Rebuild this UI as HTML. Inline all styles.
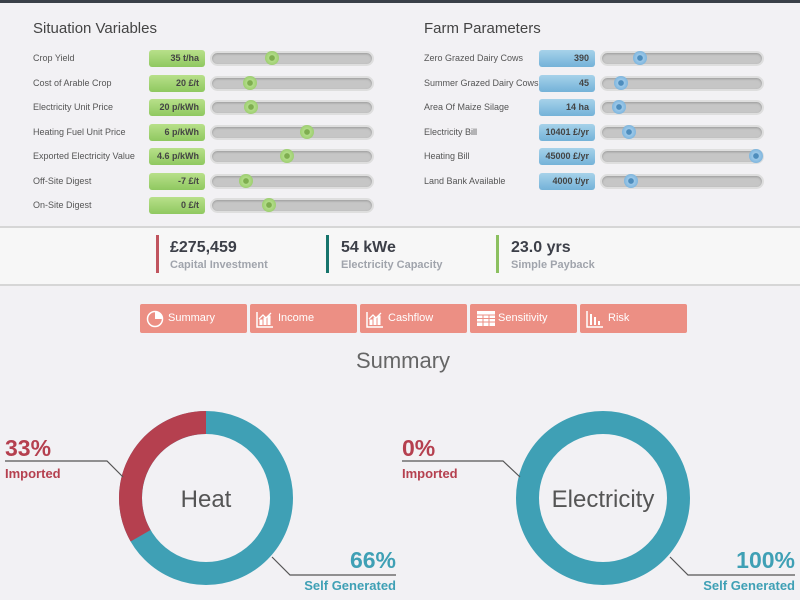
<!DOCTYPE html>
<html><head><meta charset="utf-8"><style>
*{margin:0;padding:0;box-sizing:border-box}
body{width:800px;height:600px;overflow:hidden;background:#f2f1f4;font-family:"Liberation Sans",sans-serif;position:relative}
.a{position:absolute}
.topbar{left:0;top:0;width:800px;height:3px;background:#3a4048}
h2{position:absolute;font-weight:normal;font-size:15px;color:#444}
.lbl{position:absolute;font-size:9px;color:#555;white-space:nowrap}
.box{position:absolute;width:56px;height:17px;border-radius:3px;font-size:9px;font-weight:bold;color:#444;text-align:right;padding-right:6px;line-height:17px}
.g{background:linear-gradient(#b8e08a,#8fc860)}
.b{background:linear-gradient(#a6d2ea,#74b2d8)}
.trk{position:absolute;width:164px;height:15px;border-radius:8px;background:#c6c6c6;border:2px solid #dedede;box-shadow:inset 0 1px 2px #999}
.trk i{position:absolute;top:-2px;width:14px;height:14px;border-radius:50%}
.trk.gg i{background:radial-gradient(circle,#7fae50 25%,#b2dc88 32%,#8ec460 100%)}
.trk.bb i{background:radial-gradient(circle,#4e8dbd 25%,#9cc8e8 32%,#6aa8d6 100%)}
.band{left:0;top:226px;width:800px;height:60px;background:#f7f7f7;border-top:2px solid #d6d6d6;border-bottom:2px solid #d6d6d6}
.sb{position:absolute;top:235px;width:3px;height:38px}
.sv{position:absolute;top:239px;font-size:16px;font-weight:bold;color:#3c3f48}
.sl{position:absolute;top:259px;font-size:11px;font-weight:bold;color:#a0a4ac}
.btn{position:absolute;top:304px;width:107px;height:29px;background:#ec8f84;border-radius:2px;color:#fff;font-size:11px;line-height:29px;padding-left:28px}
.btn svg{position:absolute;left:6px;top:6px}
</style></head><body>
<div class="a topbar"></div>
<h2 style="left:33px;top:20px">Situation Variables</h2>
<h2 style="left:424px;top:20px">Farm Parameters</h2>

<div class="lbl" style="left:33px;top:53px">Crop Yield</div>
<div class="lbl" style="left:33px;top:78px">Cost of Arable Crop</div>
<div class="lbl" style="left:33px;top:102px">Electricity Unit Price</div>
<div class="lbl" style="left:33px;top:127px">Heating Fuel Unit Price</div>
<div class="lbl" style="left:33px;top:151px">Exported Electricity Value</div>
<div class="lbl" style="left:33px;top:176px">Off-Site Digest</div>
<div class="lbl" style="left:33px;top:200px">On-Site Digest</div>

<div class="box g" style="left:149px;top:50px">35 t/ha</div>
<div class="box g" style="left:149px;top:75px">20 £/t</div>
<div class="box g" style="left:149px;top:99px">20 p/kWh</div>
<div class="box g" style="left:149px;top:124px">6 p/kWh</div>
<div class="box g" style="left:149px;top:148px">4.6 p/kWh</div>
<div class="box g" style="left:149px;top:173px">-7 £/t</div>
<div class="box g" style="left:149px;top:197px">0 £/t</div>

<div class="trk gg" style="left:210px;top:51px"><i style="left:53px"></i></div>
<div class="trk gg" style="left:210px;top:76px"><i style="left:31px"></i></div>
<div class="trk gg" style="left:210px;top:100px"><i style="left:32px"></i></div>
<div class="trk gg" style="left:210px;top:125px"><i style="left:88px"></i></div>
<div class="trk gg" style="left:210px;top:149px"><i style="left:68px"></i></div>
<div class="trk gg" style="left:210px;top:174px"><i style="left:27px"></i></div>
<div class="trk gg" style="left:210px;top:198px"><i style="left:50px"></i></div>

<div class="lbl" style="left:424px;top:53px">Zero Grazed Dairy Cows</div>
<div class="lbl" style="left:424px;top:78px">Summer Grazed Dairy Cows</div>
<div class="lbl" style="left:424px;top:102px">Area Of Maize Silage</div>
<div class="lbl" style="left:424px;top:127px">Electricity Bill</div>
<div class="lbl" style="left:424px;top:151px">Heating Bill</div>
<div class="lbl" style="left:424px;top:176px">Land Bank Available</div>

<div class="box b" style="left:539px;top:50px">390</div>
<div class="box b" style="left:539px;top:75px">45</div>
<div class="box b" style="left:539px;top:99px">14 ha</div>
<div class="box b" style="left:539px;top:124px">10401 £/yr</div>
<div class="box b" style="left:539px;top:148px">45000 £/yr</div>
<div class="box b" style="left:539px;top:173px">4000 t/yr</div>

<div class="trk bb" style="left:600px;top:51px"><i style="left:31px"></i></div>
<div class="trk bb" style="left:600px;top:76px"><i style="left:12px"></i></div>
<div class="trk bb" style="left:600px;top:100px"><i style="left:10px"></i></div>
<div class="trk bb" style="left:600px;top:125px"><i style="left:20px"></i></div>
<div class="trk bb" style="left:600px;top:149px"><i style="left:147px"></i></div>
<div class="trk bb" style="left:600px;top:174px"><i style="left:22px"></i></div>

<div class="a band"></div>
<div class="sb" style="left:156px;background:#c0545e"></div>
<div class="sb" style="left:326px;background:#16746c"></div>
<div class="sb" style="left:496px;background:#8cc060"></div>
<div class="sv" style="left:170px">£275,459</div><div class="sl" style="left:170px">Capital Investment</div>
<div class="sv" style="left:341px">54 kWe</div><div class="sl" style="left:341px">Electricity Capacity</div>
<div class="sv" style="left:511px">23.0 yrs</div><div class="sl" style="left:511px">Simple Payback</div>

<div class="btn" style="left:140px"><svg width="18" height="18"><circle cx="9" cy="9" r="7.5" fill="none" stroke="#fff" stroke-width="1.5"/><path d="M9 9V1.5A7.5 7.5 0 0 1 16.5 9Z" fill="#fff"/></svg>Summary</div>
<div class="btn" style="left:250px"><svg width="18" height="18"><path d="M1 2V17H17" fill="none" stroke="#fff" stroke-width="1.5"/><path d="M4 15V10h2v5M8 15V8h2v7M12 15V6h2v9" fill="#fff" stroke="#fff"/><path d="M3 9l4-4 3 3 5-5" fill="none" stroke="#fff" stroke-width="1.3"/></svg>Income</div>
<div class="btn" style="left:360px"><svg width="18" height="18"><path d="M1 2V17H17" fill="none" stroke="#fff" stroke-width="1.5"/><path d="M4 15V10h2v5M8 15V8h2v7M12 15V6h2v9" fill="#fff" stroke="#fff"/><path d="M3 9l4-4 3 3 5-5" fill="none" stroke="#fff" stroke-width="1.3"/></svg>Cashflow</div>
<div class="btn" style="left:470px"><svg width="20" height="18"><rect x="1" y="1" width="18" height="15" fill="#fff"/><path d="M1 5H19M1 8.5H19M1 12H19M7 5V16M13 5V16" stroke="#ec8f84" stroke-width="1"/></svg>Sensitivity</div>
<div class="btn" style="left:580px"><svg width="18" height="18"><path d="M1 1V17H17" fill="none" stroke="#fff" stroke-width="1.5"/><rect x="4" y="4" width="2" height="11" fill="#fff"/><rect x="8" y="7" width="2" height="8" fill="#fff"/><rect x="12" y="11" width="2" height="4" fill="#fff"/></svg>Risk</div>

<div class="a" style="left:0;top:348px;width:806px;text-align:center;font-size:22px;color:#666">Summary</div>

<svg class="a" style="left:0;top:0" width="800" height="600">
<g fill="none" stroke-width="23">
<circle cx="206" cy="498" r="75.5" stroke="#3fa0b5"/>
<path d="M206 422.5A75.5 75.5 0 0 0 140.6 535.75" stroke="#b5404f"/>
<circle cx="603" cy="498" r="75.5" stroke="#3fa0b5"/>
</g>
<g fill="none" stroke="#555" stroke-width="1.2">
<path d="M5 461H107L123 477"/><path d="M272 557L290 575H396"/>
<path d="M402 461H503L520 477"/><path d="M670 557L688 575H795"/>
</g>
<g font-family="Liberation Sans,sans-serif" font-weight="bold">
<text x="5" y="456" font-size="23" fill="#b5404f">33%</text>
<text x="5" y="478" font-size="13" fill="#b5404f">Imported</text>
<text x="396" y="568" font-size="23" fill="#3fa0b5" text-anchor="end">66%</text>
<text x="396" y="590" font-size="13" fill="#3fa0b5" text-anchor="end">Self Generated</text>
<text x="402" y="456" font-size="23" fill="#b5404f">0%</text>
<text x="402" y="478" font-size="13" fill="#b5404f">Imported</text>
<text x="795" y="568" font-size="23" fill="#3fa0b5" text-anchor="end">100%</text>
<text x="795" y="590" font-size="13" fill="#3fa0b5" text-anchor="end">Self Generated</text>
</g>
<g font-family="Liberation Sans,sans-serif" font-size="24" fill="#555" text-anchor="middle">
<text x="206" y="507">Heat</text><text x="603" y="507">Electricity</text>
</g>
</svg>
</body></html>
